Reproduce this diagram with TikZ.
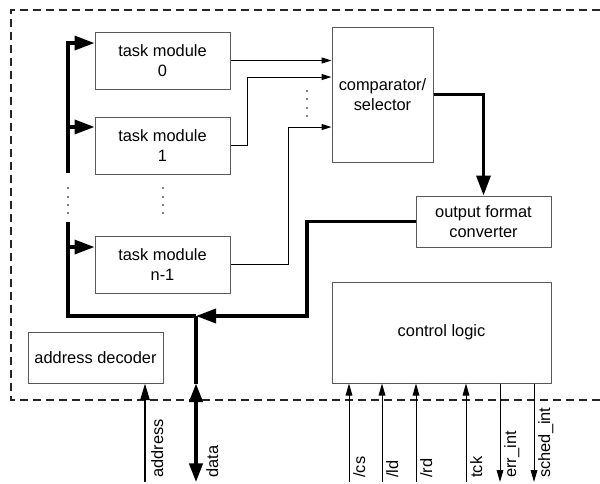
\documentclass[tikz,border=0pt]{standalone}
\usepackage{fontspec}
\setmainfont{Liberation Sans}
\usetikzlibrary{arrows.meta}

\tikzset{
  block/.style={draw=black!65,line width=0.75pt,align=center,inner sep=0pt,
    font=\fontsize{12.3}{15}\selectfont},
  module/.style={block,minimum width=101.25pt,minimum height=42.75pt},
  bus/.style={line width=2.6pt},
  busarrow/.style={bus,-{Triangle[length=15pt,width=10.5pt]}},
  wire/.style={line width=0.75pt,-{Triangle[length=7.5pt,width=4.5pt]}},
  sigwire/.style={line width=0.75pt,>={Triangle[length=9pt,width=5pt]}},
  siglabel/.style={rotate=90,anchor=base west,inner sep=0pt,
    font=\fontsize{12.3}{14}\selectfont},
}

\begin{document}
\begin{tikzpicture}[x=0.75pt,y=-0.75pt]
  \useasboundingbox (0,0) rectangle (600,483);
  % chip boundary
  \draw[black!85,line width=0.8pt,dash pattern=on 6pt off 3.75pt]
    (600,10) -- (11,10) -- (11,400) -- (600,400);

  \node[module] (task0) at (162.5,60.5) {task module\\0};
  \node[module] (task1) at (162.5,145.5) {task module\\1};
  \node[module] (taskn) at (162.5,264.5) {task module\\n-1};
  \node[block,minimum width=75.75pt,minimum height=101.25pt] (comp) at (382.5,94.5) {comparator/\\selector};
  \node[block,minimum width=101.25pt,minimum height=38.25pt] (conv) at (483.5,221.5) {output format\\converter};
  \node[block,minimum width=164.25pt,minimum height=75.75pt] (ctrl) at (441.5,332.5) {control logic};
  \node[block,minimum width=101.25pt,minimum height=38.25pt] (addr) at (95.5,357.5) {address decoder};

  % internal data bus
  \coordinate (busa) at (68,173);
  \coordinate (busb) at (68,222);
  \coordinate (join) at (196,316);
  \coordinate (ret) at (307,316);
  \path ([yshift=13.1pt]task0.west) coordinate (in0)
        ([yshift=13.9pt]task1.west) coordinate (in1)
        ([yshift=13.1pt]taskn.west) coordinate (inn);
  \draw[busarrow] (busa) |- (in0);
  \draw[busarrow] (busa |- in1) -- (in1);
  \draw[busarrow] (busb |- inn) -- (inn);
  \draw[bus] (busb) |- (join);
  \draw[busarrow] (conv.west) -| (ret) -- (join);
  \draw[busarrow] (comp.east) -| (conv.north);

  % module outputs
  \draw[wire] (task0.east) -- (task0.east -| comp.west);
  \draw[wire] (task1.east) -- ++(17,0) |- ([yshift=13.1pt]comp.west);
  \draw[wire] (taskn.east) -- ++(58,0) |- ([yshift=-24.4pt]comp.west);

  \foreach \y in {188,197,205,213} {
    \fill (68,\y) circle (0.6pt);
    \fill (163,\y) circle (0.6pt);
  }
  \foreach \y in {91,99,108,116} \fill (307,\y) circle (0.6pt);

  % external pins
  \coordinate (datapin) at (196,482);
  \coordinate (addrpin) at (145,482);
  \draw[bus] (join) -- (join |- addr.south);
  \draw[bus,{Triangle[length=14pt,width=10pt]}-{Triangle[length=14pt,width=10pt]}]
    (join |- addr.south) -- (datapin);
  \node[siglabel] (datalbl) at ([xshift=16.5pt,yshift=3pt]datapin) {data};
  \draw[line width=1.5pt,-{Triangle[length=12.5pt,width=7pt]}] (addrpin) -- (addrpin |- addr.south);
  \node[siglabel] (addrlbl) at ([xshift=13.5pt,yshift=3pt]addrpin) {address};

  \foreach \x/\name/\txt/\dir in {349/cs/{/cs}/<-,382/ld/{/ld}/<-,416/rd/{/rd}/<-,
      466/tck/tck/<-,500/err/err\_int/->,534/sched/sched\_int/->} {
    \coordinate (\name pin) at (\x,482);
    \draw[sigwire,\dir] (ctrl.south -| \name pin) -- (\name pin);
    \node[siglabel] (\name lbl) at ([xshift=12pt,yshift=3pt]\name pin) {\txt};
  }
\end{tikzpicture}
\end{document}
